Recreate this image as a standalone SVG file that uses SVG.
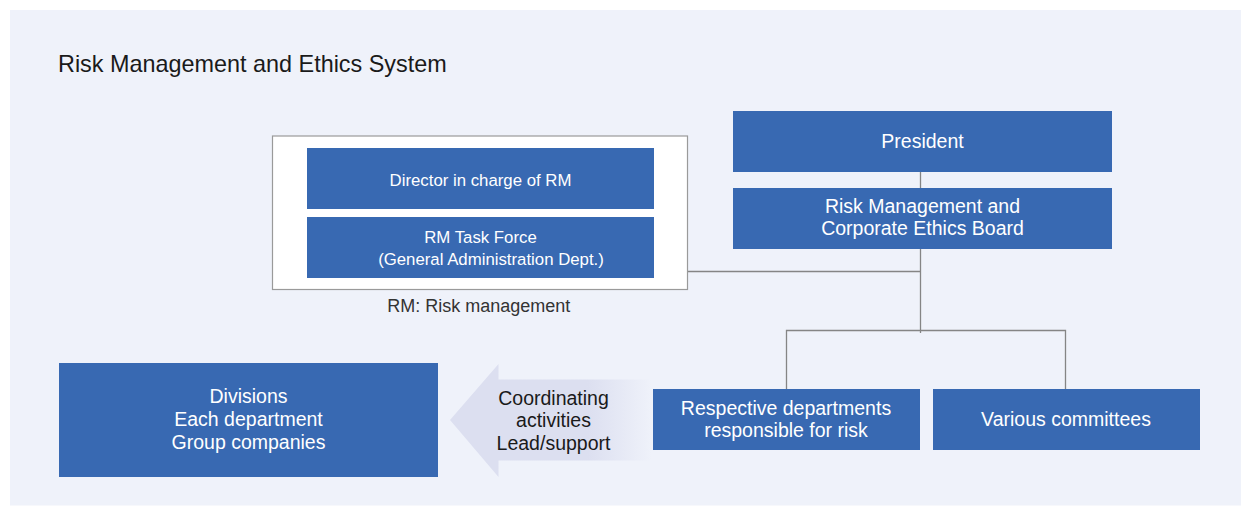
<svg xmlns="http://www.w3.org/2000/svg" width="1241" height="506" viewBox="0 0 1241 506">
  <defs>
    <style>
      .box { fill: #3869b2; }
      .wt { fill: #ffffff; font-family: "Liberation Sans", Arial, sans-serif; font-size: 19.5px; text-anchor: middle; }
      .wts { fill: #ffffff; font-family: "Liberation Sans", Arial, sans-serif; font-size: 16.8px; text-anchor: middle; }
      .dk { fill: #1a1a1a; font-family: "Liberation Sans", Arial, sans-serif; font-size: 19.5px; text-anchor: middle; }
      .conn { stroke: #858585; stroke-width: 1.3; fill: none; }
    </style>
    <linearGradient id="arrowGrad" gradientUnits="userSpaceOnUse" x1="450" y1="0" x2="652" y2="0">
      <stop offset="0" stop-color="#dcdff0"/>
      <stop offset="0.68" stop-color="#dcdff0"/>
      <stop offset="1" stop-color="#dcdff0" stop-opacity="0"/>
    </linearGradient>
  </defs>

  <rect x="0" y="0" width="1241" height="506" fill="#ffffff"/>
  <rect id="background" x="10" y="10" width="1231" height="495.5" fill="#eff2fa"/>

  <text id="title" x="58" y="71.5" font-family="Liberation Sans, Arial, sans-serif" font-size="23.4" fill="#1a1a1a">Risk Management and Ethics System</text>

  <g id="connectors">
    <line class="conn" x1="920.5" y1="172" x2="920.5" y2="188"/>
    <line class="conn" x1="920.5" y1="249" x2="920.5" y2="333"/>
    <line class="conn" x1="688" y1="271.5" x2="920.5" y2="271.5"/>
    <polyline class="conn" points="786.5,389 786.5,330.5 1065.5,330.5 1065.5,389"/>
  </g>

  <g id="rm-group">
    <rect x="272.5" y="136" width="415" height="153.5" fill="#ffffff" stroke="#9a9a9a" stroke-width="1.2"/>
    <g id="director">
      <rect class="box" x="307" y="148" width="347" height="61"/>
      <text class="wts" x="480.5" y="185.5">Director in charge of RM</text>
    </g>
    <g id="task-force">
      <rect class="box" x="307" y="217" width="347" height="61"/>
      <text class="wts" x="480.5" y="243.3">RM Task Force</text>
      <text class="wts" x="491" y="264.8">(General Administration Dept.)</text>
    </g>
    <text id="rm-note" x="478.8" y="311.5" font-family="Liberation Sans, Arial, sans-serif" font-size="18" fill="#333333" text-anchor="middle">RM: Risk management</text>
  </g>

  <g id="president">
    <rect class="box" x="733" y="111" width="379" height="61"/>
    <text class="wt" x="922.5" y="148.3">President</text>
  </g>

  <g id="board">
    <rect class="box" x="733" y="188" width="379" height="61"/>
    <text class="wt" x="922.5" y="212.7">Risk Management and</text>
    <text class="wt" x="922.5" y="235">Corporate Ethics Board</text>
  </g>

  <g id="respective">
    <rect class="box" x="653" y="389" width="267" height="61"/>
    <text class="wt" x="786" y="415">Respective departments</text>
    <text class="wt" x="786" y="436.7">responsible for risk</text>
  </g>

  <g id="committees">
    <rect class="box" x="933" y="389" width="267" height="61"/>
    <text class="wt" x="1066" y="426">Various committees</text>
  </g>

  <g id="coordinating-arrow">
    <polygon points="450,420 498.5,364 498.5,379.5 652,379.5 652,460.5 498.5,460.5 498.5,477" fill="url(#arrowGrad)"/>
    <text class="dk" x="553.5" y="405">Coordinating</text>
    <text class="dk" x="553.5" y="427.3">activities</text>
    <text class="dk" x="553.5" y="450">Lead/support</text>
  </g>

  <g id="divisions">
    <rect class="box" x="59" y="363" width="379" height="114"/>
    <text class="wt" x="248.5" y="403.3">Divisions</text>
    <text class="wt" x="248.5" y="426">Each department</text>
    <text class="wt" x="248.5" y="449">Group companies</text>
  </g>
</svg>
